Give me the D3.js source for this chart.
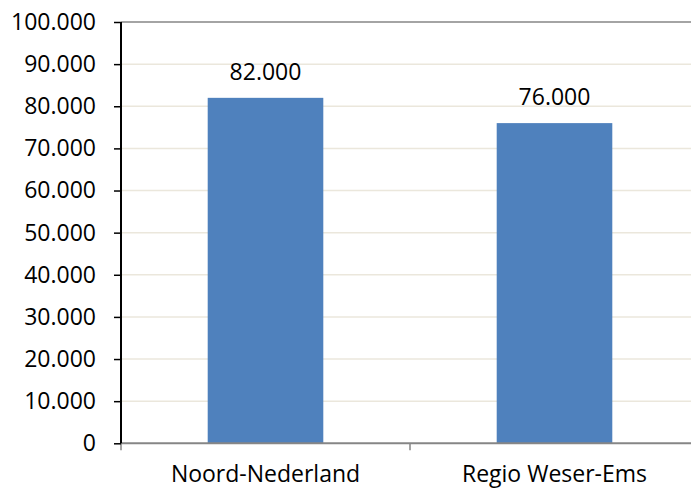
<!DOCTYPE html>
<html>
<head>
<meta charset="utf-8">
<script src="https://cdn.jsdelivr.net/npm/d3@7"></script>
<style>
  body { margin: 0; background: #fff; }
  svg { display: block; font-family: "Open Sans", "Liberation Sans", sans-serif; }
</style>
</head>
<body>
<div id="chart"></div>
<script>
// chart data
const categories = ["Noord-Nederland", "Regio Weser-Ems"];
const values = [82000, 76000];
const yTicks = [0, 10000, 20000, 30000, 40000, 50000, 60000, 70000, 80000, 90000, 100000];

const width = 691, height = 490;
const margin = { top: 22, right: -8, bottom: 46.7, left: 121 };

const fmt = v => d3.format(",")(v).replace(/,/g, ".");

const svg = d3.select("#chart").append("svg")
    .attr("width", width)
    .attr("height", height);

const x = d3.scaleBand()
    .domain(categories)
    .range([margin.left, width - margin.right])
    .paddingInner(0.6)
    .paddingOuter(0.3);

const y = d3.scaleLinear()
    .domain([0, 100000])
    .range([height - margin.bottom, margin.top]);

// gridlines
svg.append("g")
    .selectAll("line")
    .data(yTicks.filter(d => d > 0))
    .join("line")
    .attr("x1", margin.left)
    .attr("x2", width)
    .attr("y1", d => y(d))
    .attr("y2", d => y(d))
    .attr("stroke", d => d === 100000 ? "#868686" : "#ebe7dc")
    .attr("stroke-width", 1.5);

// bars
svg.append("g")
    .selectAll("rect")
    .data(values)
    .join("rect")
    .attr("x", (d, i) => x(categories[i]))
    .attr("y", d => y(d))
    .attr("width", x.bandwidth())
    .attr("height", d => y(0) - y(d))
    .attr("fill", "#4f81bd");

// value labels
svg.append("g")
    .selectAll("text")
    .data(values)
    .join("text")
    .attr("x", (d, i) => x(categories[i]) + x.bandwidth() / 2)
    .attr("y", d => y(d) - 18)
    .attr("text-anchor", "middle")
    .attr("font-size", 23)
    .attr("fill", "#000")
    .text(d => fmt(d));

// x axis
const xStep = x.step();
svg.append("line")
    .attr("x1", margin.left)
    .attr("x2", width)
    .attr("y1", y(0))
    .attr("y2", y(0))
    .attr("stroke", "#868686")
    .attr("stroke-width", 2);

svg.append("g")
    .selectAll("line")
    .data(d3.range(categories.length + 1))
    .join("line")
    .attr("x1", i => margin.left + i * xStep)
    .attr("x2", i => margin.left + i * xStep)
    .attr("y1", y(0))
    .attr("y2", y(0) + 7)
    .attr("stroke", "#868686")
    .attr("stroke-width", 1.5);

svg.append("g")
    .selectAll("text")
    .data(categories)
    .join("text")
    .attr("x", d => x(d) + x.bandwidth() / 2)
    .attr("y", 482)
    .attr("text-anchor", "middle")
    .attr("font-size", 23)
    .attr("fill", "#000")
    .text(d => d);

// y axis
const yAxis = svg.append("g")
    .attr("transform", `translate(${margin.left},0)`)
    .call(d3.axisLeft(y).tickValues(yTicks).tickSize(7).tickPadding(18).tickFormat(fmt));

yAxis.select(".domain")
    .attr("stroke", "#000")
    .attr("stroke-width", 2)
    .attr("d", `M0,${y(0)}V${y(100000)}`);
yAxis.selectAll(".tick line").attr("stroke", "#000").attr("stroke-width", 1.5);
yAxis.selectAll(".tick text")
    .attr("font-family", "\"Open Sans\", sans-serif")
    .attr("font-size", 23)
    .attr("fill", "#000");
</script>
</body>
</html>
